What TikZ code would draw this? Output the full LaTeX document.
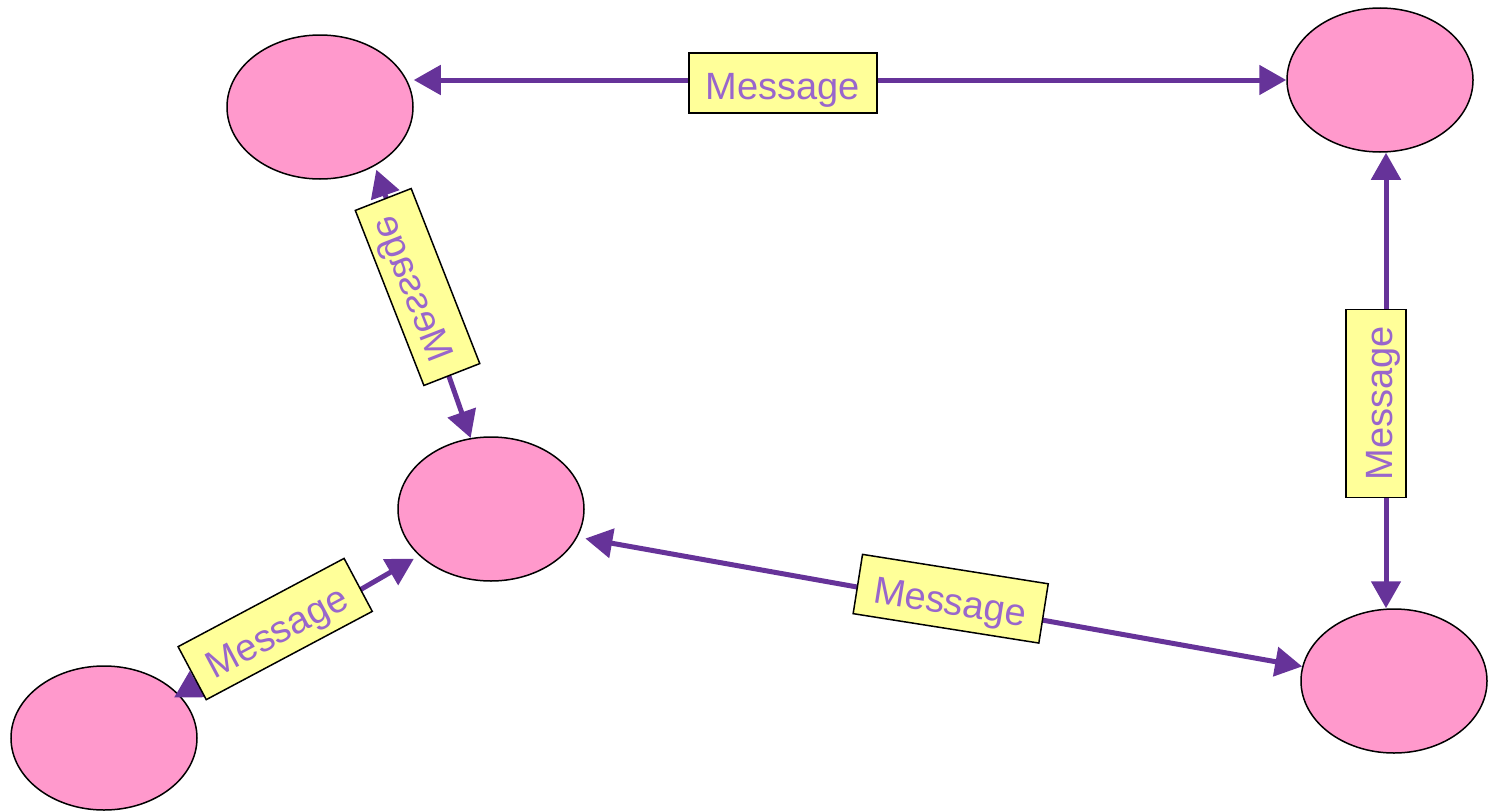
\documentclass[tikz,border=0pt]{standalone}
\usepackage{fontspec}
\setmainfont{Liberation Sans}
\usetikzlibrary{arrows.meta,shapes.geometric}
\definecolor{peerpink}{HTML}{FF99CC}
\definecolor{linkpurple}{HTML}{663399}
\definecolor{msgyellow}{HTML}{FFFF99}
\definecolor{msgtext}{HTML}{9966CC}

\begin{document}
\begin{tikzpicture}[x=1pt,y=-1pt,
  peer/.style={draw,ellipse,line width=1.5pt,fill=peerpink,minimum width=186pt,minimum height=144pt,inner sep=0pt},
  flow/.style={{Triangle[length=27pt,width=29pt]}-{Triangle[length=27pt,width=29pt]},line width=5pt,draw=linkpurple},
  msg/.style={draw=black,line width=1.5pt,fill=msgyellow,text=msgtext,minimum width=188pt,minimum height=60pt,inner sep=0pt,text height=32pt,text depth=0pt,font=\fontsize{38}{40}\selectfont}]
\useasboundingbox (0,0) rectangle (1488,811);
\node[peer] (A) at (320,107) {};
\node[peer] (B) at (1380,80) {};
\node[peer] (C) at (491,509) {};
\node[peer] (D) at (104,738) {};
\node[peer] (E) at (1394,681) {};
\coordinate (bx) at (1386,0);
% message links
\draw[flow] (A.east |- B.west) -- node[msg,pos=0.423,yshift=-3pt] (m1) {Message} (B.west);
\draw[flow,shorten <=4pt] (A.-47) -- node[msg,pos=0.445,rotate=-68.6,xscale=-1] (m2) {Message} (C.106);
\draw[flow,shorten <=-6pt,shorten >=6pt] (D.30) -- node[msg,pos=0.40,yshift=10pt,rotate=28] (m3) {Message} (C.213);
\draw[flow,shorten <=8pt] (C.-18) -- node[msg,pos=0.515,yshift=5pt,rotate=-9] (m4) {Message} (E.171);
\draw[flow] (B.south -| bx) -- node[msg,pos=0.55,xshift=-10pt,rotate=90] (m5) {Message} (E.north -| bx);
\end{tikzpicture}
\end{document}
